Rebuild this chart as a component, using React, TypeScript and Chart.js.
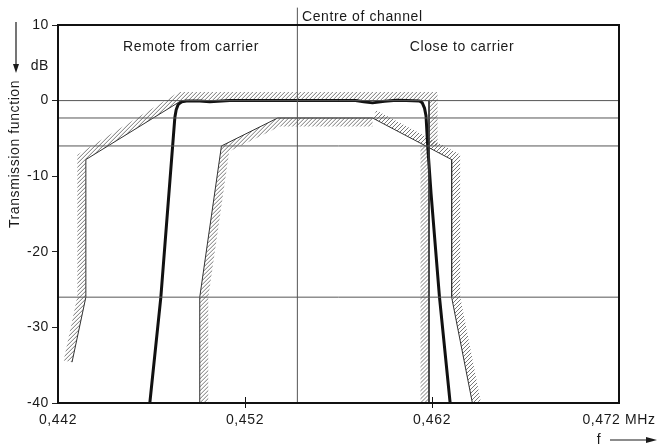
import React, { useEffect, useRef } from "react";
import { Chart, registerables } from "chart.js";

Chart.register(...registerables);

// ---- data ----
const freqTicks = [0.442, 0.452, 0.462, 0.472];
const freqLabels = ["0,442", "0,452", "0,462", "0,472 MHz"];
const dbTicks = [10, 0, -10, -20, -30, -40];
const refLevelsDb = [0, -2.3, -6, -26];
const centreFreq = 0.4548;
const centreTopDb = 12.3;

// outer tolerance mask (upper limit) – left, top and right upper part
const outerUpperF = [0.44275, 0.44349, 0.44349, 0.4486, 0.46184, 0.46184];
const outerUpperDb = [-34.6, -26, -7.8, 0, 0, -6];
// outer mask right lower part
const outerLowerF = [0.46184, 0.46184];
const outerLowerDb = [-6, -40];
// inner tolerance mask – remote side
const innerLeftF = [0.44958, 0.44958, 0.45074, 0.45375, 0.45882];
const innerLeftDb = [-40, -26, -6, -2.3, -2.3];
// inner tolerance mask – carrier side
const innerRightF = [0.45882, 0.46305, 0.46305, 0.46416];
const innerRightDb = [-2.3, -7.8, -26, -40];

// measured transmission function
const respF = [0.44691, 0.4475, 0.44825, 0.44832, 0.44843, 0.44862, 0.44887, 0.44958, 0.45012, 0.45118, 0.45791, 0.45835, 0.45882, 0.45946, 0.4601, 0.46063, 0.46133, 0.46148, 0.4616, 0.46168, 0.46177, 0.46195, 0.4624, 0.46297];
const respDb = [-40, -26, -2.2, -1.2, -0.5, -0.15, -0.05, -0.05, -0.15, 0, 0, -0.15, -0.3, -0.1, 0.05, 0, -0.05, -0.3, -1.0, -2.0, -6, -12.3, -26, -40];

const FONT = "'Liberation Sans', Arial, sans-serif";
const SPACING = "0.6px";

function pts(f: number[], d: number[]) {
  return f.map((x, i) => ({ x, y: d[i] }));
}

const spacingPlugin = {
  id: "spacing",
  beforeDraw(chart: any) {
    const ctx = chart.ctx as any;
    ctx.letterSpacing = SPACING;
  },
};

const hatchPlugin = {
  id: "hatch",
  beforeDatasetsDraw(chart: any) {
    const ctx = chart.ctx as CanvasRenderingContext2D;
    chart.data.datasets.forEach((ds: any, di: number) => {
      if (!ds.hatchSide) return;
      const meta = chart.getDatasetMeta(di);
      const p = meta.data.map((e: any) => ({ x: e.x, y: e.y }));
      const n = p.length;
      const w = 8.5;
      const side = ds.hatchSide;
      const segN = (a: any, b: any) => {
        const dx = b.x - a.x, dy = b.y - a.y;
        const L = Math.hypot(dx, dy) || 1;
        return { x: dy / L, y: -dx / L };
      };
      const off: any[] = [];
      for (let i = 0; i < n; i++) {
        let n1 = i > 0 ? segN(p[i - 1], p[i]) : null;
        let n2 = i < n - 1 ? segN(p[i], p[i + 1]) : null;
        if (!n1) n1 = n2;
        if (!n2) n2 = n1;
        let mx = n1!.x + n2!.x, my = n1!.y + n2!.y;
        const ml = Math.hypot(mx, my) || 1;
        mx /= ml; my /= ml;
        const dot = mx * n1!.x + my * n1!.y || 1;
        const len = w / dot;
        off.push({ x: p[i].x + mx * len * side, y: p[i].y + my * len * side });
      }
      const poly = [...p, ...off.reverse()];
      let minX = Infinity, maxX = -Infinity, minY = Infinity, maxY = -Infinity;
      poly.forEach((q) => {
        minX = Math.min(minX, q.x); maxX = Math.max(maxX, q.x);
        minY = Math.min(minY, q.y); maxY = Math.max(maxY, q.y);
      });
      ctx.save();
      ctx.beginPath();
      poly.forEach((q, i) => (i ? ctx.lineTo(q.x, q.y) : ctx.moveTo(q.x, q.y)));
      ctx.closePath();
      ctx.clip();
      ctx.strokeStyle = "#666";
      ctx.lineWidth = 0.9;
      ctx.beginPath();
      const H = maxY - minY + 10;
      for (let x = minX - H - 10; x < maxX + 10; x += 4) {
        ctx.moveTo(x, maxY + 5);
        ctx.lineTo(x + H + 5, maxY - H);
      }
      ctx.stroke();
      ctx.restore();
    });
  },
};

const framePlugin = {
  id: "frame",
  afterDatasetsDraw(chart: any) {
    const ctx = chart.ctx as CanvasRenderingContext2D;
    const a = chart.chartArea;
    const xs = chart.scales.x;
    ctx.save();
    ctx.strokeStyle = "#111";
    ctx.lineWidth = 2;
    ctx.strokeRect(a.left, a.top, a.right - a.left, a.bottom - a.top);
    ctx.lineWidth = 1;
    ctx.beginPath();
    freqTicks.slice(1, -1).forEach((v) => {
      const x = Math.round(xs.getPixelForValue(v)) + 0.5;
      ctx.moveTo(x, a.bottom - 6);
      ctx.lineTo(x, a.bottom + 5);
    });
    ctx.stroke();
    ctx.restore();
  },
};

const textPlugin = {
  id: "texts",
  afterDraw(chart: any) {
    const ctx = chart.ctx as any;
    const ys = chart.scales.y;
    ctx.save();
    ctx.letterSpacing = SPACING;
    ctx.fillStyle = "#1a1a1a";
    ctx.strokeStyle = "#1a1a1a";
    ctx.font = `14px ${FONT}`;
    ctx.textBaseline = "middle";
    ctx.textAlign = "left";
    ctx.fillText("Centre of channel", 302, 17);
    ctx.textAlign = "center";
    ctx.fillText("Remote from carrier", 191, 47);
    ctx.fillText("Close to carrier", 462, 47);
    ctx.textAlign = "right";
    ctx.fillText("dB", 49, ys.getPixelForValue(4.6));
    // y title
    ctx.save();
    ctx.translate(15, 154);
    ctx.rotate(-Math.PI / 2);
    ctx.textAlign = "center";
    ctx.fillText("Transmission function", 0, 0);
    ctx.restore();
    // arrow down
    ctx.lineWidth = 1.2;
    ctx.beginPath();
    ctx.moveTo(16, 22);
    ctx.lineTo(16, 66);
    ctx.stroke();
    ctx.beginPath();
    ctx.moveTo(13, 64);
    ctx.lineTo(19, 64);
    ctx.lineTo(16, 73);
    ctx.closePath();
    ctx.fill();
    // f arrow
    ctx.textAlign = "center";
    ctx.fillText("f", 599, 440);
    ctx.beginPath();
    ctx.moveTo(610, 440);
    ctx.lineTo(648, 440);
    ctx.stroke();
    ctx.beginPath();
    ctx.moveTo(646, 437);
    ctx.lineTo(657, 440);
    ctx.lineTo(646, 443);
    ctx.closePath();
    ctx.fill();
    ctx.restore();
  },
};

export default function App() {
  const ref = useRef<HTMLCanvasElement | null>(null);
  useEffect(() => {
    if (!ref.current) return;
    const refSets = refLevelsDb.map((v) => ({
      data: [{ x: freqTicks[0], y: v }, { x: freqTicks[freqTicks.length - 1], y: v }],
      borderColor: "#555",
      borderWidth: 1,
      pointRadius: 0,
    }));
    const maskStyle = { borderColor: "#333", borderWidth: 1, pointRadius: 0 };
    const chart = new Chart(ref.current, {
      type: "line",
      data: {
        datasets: [
          ...refSets,
          {
            data: [{ x: centreFreq, y: -40 }, { x: centreFreq, y: centreTopDb }],
            borderColor: "#555",
            borderWidth: 1,
            pointRadius: 0,
            clip: false,
          } as any,
          { data: pts(outerUpperF, outerUpperDb), ...maskStyle, hatchSide: 1, clip: false } as any,
          { data: pts(outerLowerF, outerLowerDb), ...maskStyle, hatchSide: -1 } as any,
          { data: pts(innerLeftF, innerLeftDb), ...maskStyle, hatchSide: -1 } as any,
          { data: pts(innerRightF, innerRightDb), ...maskStyle, hatchSide: 1 } as any,
          {
            data: pts(respF, respDb),
            borderColor: "#111",
            borderWidth: 3,
            pointRadius: 0,
            tension: 0,
            borderJoinStyle: "round",
          } as any,
        ],
      },
      options: {
        responsive: false,
        animation: false,
        devicePixelRatio: 1,
        layout: { padding: { top: 25, right: 43, left: 0, bottom: 0 } },
        plugins: { legend: { display: false }, tooltip: { enabled: false } },
        scales: {
          x: {
            type: "linear",
            min: 0.442,
            max: 0.472,
            afterBuildTicks: (s: any) => {
              s.ticks = freqTicks.map((v) => ({ value: v }));
            },
            afterFit: (s: any) => {
              s.height = 43;
            },
            ticks: {
              callback: (_v: any, i: number) => freqLabels[i],
              autoSkip: false,
              maxRotation: 0,
              padding: 9,
              color: "#1a1a1a",
              font: { family: FONT, size: 14 },
            },
            grid: { drawOnChartArea: false, drawTicks: false },
            border: { display: false },
          },
          y: {
            type: "linear",
            min: -40,
            max: 10,
            afterBuildTicks: (s: any) => {
              s.ticks = dbTicks.map((v) => ({ value: v }));
            },
            afterFit: (s: any) => {
              s.width = 58;
            },
            ticks: {
              callback: (v: any) => String(v),
              padding: 3,
              color: "#1a1a1a",
              font: { family: FONT, size: 14 },
            },
            grid: { drawOnChartArea: false, drawTicks: true, tickLength: 6, color: "#222" },
            border: { display: false },
          },
        },
      } as any,
      plugins: [spacingPlugin, hatchPlugin, framePlugin, textPlugin],
    });
    return () => chart.destroy();
  }, []);
  return (
    <div style={{ position: "fixed", left: 0, top: 0, width: 662, height: 446, background: "#fff" }}>
      <canvas ref={ref} width={662} height={446} style={{ display: "block" }} />
    </div>
  );
}
